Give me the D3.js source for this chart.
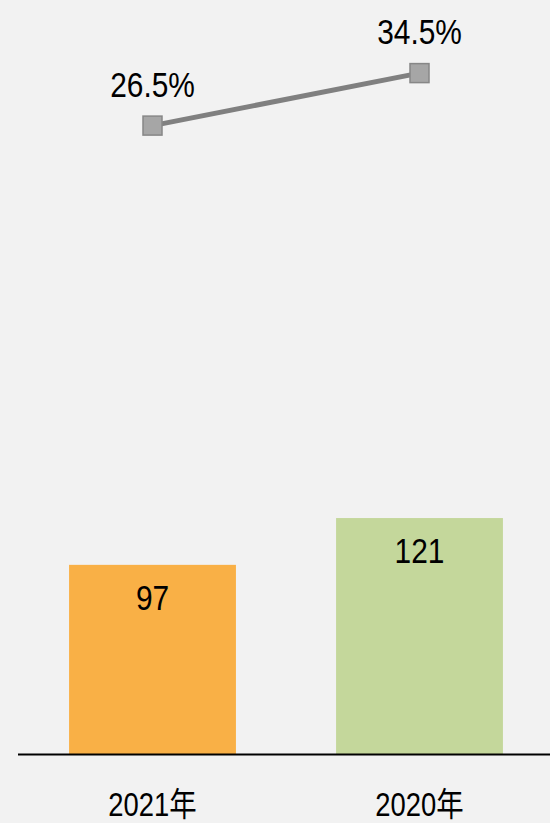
<!DOCTYPE html>
<html>
<head>
<meta charset="utf-8">
<script src="https://cdn.jsdelivr.net/npm/d3@7"></script>
<style>
  html, body { margin: 0; padding: 0; background: #f2f2f2; }
  svg text { font-family: "Liberation Sans Narrow", "Liberation Sans", "Noto Sans CJK SC", sans-serif; fill: #000; }
</style>
</head>
<body>
<div id="chart"></div>
<script>
var years = ["2021年", "2020年"]
var amounts = [97, 121]
var rates = [26.5, 34.5]
var barColors = ["#f9b046", "#c4d79b"]

var width = 550, height = 823
var narrow = 0.83 // squeeze text to look like a narrow face

var svg = d3.select("#chart").append("svg")
  .attr("width", width)
  .attr("height", height)

svg.append("rect").attr("width", width).attr("height", height).attr("fill", "#f2f2f2")

var x = d3.scaleBand()
  .domain(years)
  .range([19, 553])
  .paddingInner(0.375)
  .paddingOuter(0.1875)

var y = d3.scaleLinear()
  .domain([0, 380])
  .range([754, 13])

var yRate = d3.scaleLinear()
  .domain([0, 40])
  .range([299.5, 37])

function cx(i) { return x(years[i]) + x.bandwidth() / 2 }

// bars
svg.selectAll("rect.bar")
  .data(amounts)
  .enter()
  .append("rect")
  .attr("class", "bar")
  .attr("x", function(d, i) { return x(years[i]) })
  .attr("y", function(d) { return y(d) })
  .attr("width", x.bandwidth())
  .attr("height", function(d) { return y(0) - y(d) })
  .attr("fill", function(d, i) { return barColors[i] })

svg.selectAll("text.barlabel")
  .data(amounts)
  .enter()
  .append("text")
  .attr("class", "barlabel")
  .attr("transform", function(d, i) { return "translate(" + cx(i) + "," + (y(d) + 45) + ") scale(" + narrow + ",1)" })
  .attr("text-anchor", "middle")
  .attr("font-size", 36)
  .text(function(d) { return d })

// axis
var axis = svg.append("g")
  .attr("transform", "translate(0," + y(0) + ")")
  .call(d3.axisBottom(x).tickSize(0).tickPadding(0))
axis.select(".domain").attr("stroke", "#000").attr("stroke-width", 2)
  .attr("d", "M18,0.5H550")
axis.selectAll(".tick text")
  .attr("font-size", 33)
  .attr("dy", 0)
  .attr("y", 0)
  .attr("transform", "translate(0,62) scale(" + narrow + ",1)")
  .style("font-family", "'Liberation Sans Narrow', 'Liberation Sans', 'Noto Sans CJK SC', sans-serif")
  .attr("fill", "#000")

// line
var line = d3.line()
  .x(function(d, i) { return cx(i) })
  .y(function(d) { return yRate(d) })

svg.append("path")
  .datum(rates)
  .attr("d", line)
  .attr("fill", "none")
  .attr("stroke", "#808080")
  .attr("stroke-width", 5)

svg.selectAll("rect.marker")
  .data(rates)
  .enter()
  .append("rect")
  .attr("class", "marker")
  .attr("x", function(d, i) { return cx(i) - 9.5 })
  .attr("y", function(d) { return yRate(d) - 9.5 })
  .attr("width", 19)
  .attr("height", 19)
  .attr("fill", "#a6a6a6")
  .attr("stroke", "#878787")
  .attr("stroke-width", 1.5)

svg.selectAll("text.ratelabel")
  .data(rates)
  .enter()
  .append("text")
  .attr("class", "ratelabel")
  .attr("transform", function(d, i) { return "translate(" + cx(i) + "," + (yRate(d) - 29) + ") scale(" + narrow + ",1)" })
  .attr("text-anchor", "middle")
  .attr("font-size", 36)
  .text(function(d) { return d.toFixed(1) + "%" })
</script>
</body>
</html>
